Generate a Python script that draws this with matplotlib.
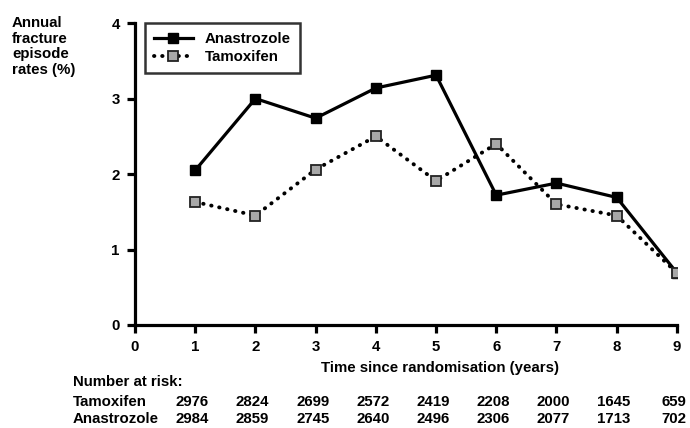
import matplotlib
matplotlib.use('Agg')
import matplotlib.pyplot as plt

plt.rcParams['font.family'] = ['Liberation Sans', 'DejaVu Sans']
plt.rcParams['font.weight'] = 'bold'

years = [1, 2, 3, 4, 5, 6, 7, 8, 9]
anastrozole = [2.05, 3.00, 2.74, 3.14, 3.31, 1.72, 1.88, 1.69, 0.69]
tamoxifen = [1.63, 1.45, 2.06, 2.50, 1.91, 2.40, 1.60, 1.45, 0.69]

risk_tamoxifen = [2976, 2824, 2699, 2572, 2419, 2208, 2000, 1645, 659]
risk_anastrozole = [2984, 2859, 2745, 2640, 2496, 2306, 2077, 1713, 702]

fs = 10.8

fig = plt.figure(figsize=(6.9, 4.28), dpi=100)
ax = fig.add_axes([0.1957, 0.2407, 0.7853, 0.7053])

ax.plot(years, anastrozole, color='black', lw=2.3, marker='s', ms=7.5,
        mfc='black', mec='black', label='Anastrozole', zorder=3)
ax.plot(years, tamoxifen, color='black', lw=2.8, ls=(0, (0.1, 2.0)),
        dash_capstyle='round', marker='s', ms=7.5, mfc='#a8a8a8', mec='#222222',
        mew=1.3, label='Tamoxifen', zorder=4)

ax.set_xlim(0, 9)
ax.set_ylim(0, 4)
ax.set_xticks(range(10))
ax.set_yticks([0, 1, 2, 3, 4])
for s in ['top', 'right']:
    ax.spines[s].set_visible(False)
for s in ['left', 'bottom']:
    ax.spines[s].set_linewidth(2.3)
ax.tick_params(width=2.3, length=6, labelsize=fs, pad=5)

leg = ax.legend(loc='upper left', bbox_to_anchor=(0.018, 1.0), borderaxespad=0,
                frameon=True, fancybox=False, edgecolor='black', fontsize=fs,
                handlelength=2.6, borderpad=0.6, labelspacing=0.25, handletextpad=0.8)
leg.get_frame().set_linewidth(1.8)

fig.text(12 / 690, 1 - 16 / 428, 'Annual\nfracture\nepisode\nrates (%)',
         ha='left', va='top', fontsize=fs, linespacing=1.15)

ax.text(5.07, -0.57, 'Time since randomisation (years)', ha='center',
        va='center', fontsize=fs)

fig.text(73 / 690, 1 - 382 / 428, 'Number at risk:', ha='left', va='center', fontsize=fs)
fig.text(73 / 690, 1 - 402 / 428, 'Tamoxifen', ha='left', va='center', fontsize=fs)
fig.text(73 / 690, 1 - 419 / 428, 'Anastrozole', ha='left', va='center', fontsize=fs)
for x, t, a in zip(years, risk_tamoxifen, risk_anastrozole):
    ax.annotate(str(t), (x - 0.05, 0), xycoords=('data', 'axes fraction'),
                xytext=(0, 1 - 402 / 428), textcoords=('offset points', 'figure fraction'),
                ha='center', va='center', fontsize=fs)
    ax.annotate(str(a), (x - 0.05, 0), xycoords=('data', 'axes fraction'),
                xytext=(0, 1 - 419 / 428), textcoords=('offset points', 'figure fraction'),
                ha='center', va='center', fontsize=fs)

fig.savefig('out.png', dpi=100)
